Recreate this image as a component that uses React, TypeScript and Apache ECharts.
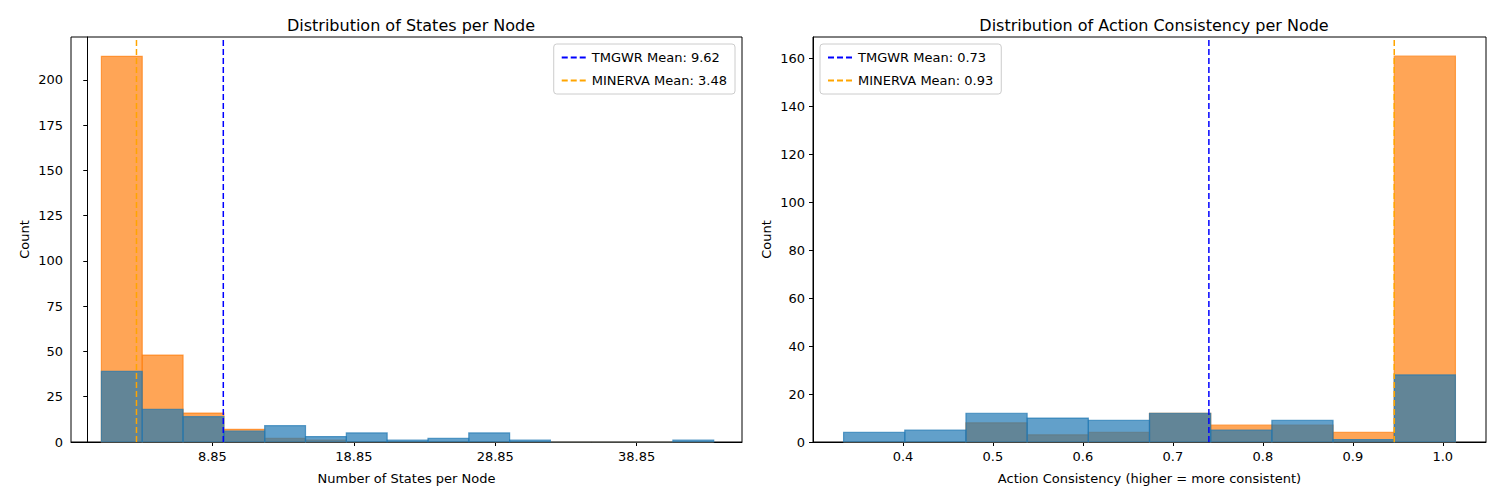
import { useRef, useEffect } from 'react'
import * as echarts from 'echarts'

const statesEdges = [1, 3.887, 6.773, 9.66, 12.547, 15.433, 18.32, 21.207, 24.093, 26.98, 29.867, 32.753, 35.64, 38.527, 41.413, 44.3]
const statesTmgwr = [39, 18, 14, 6, 9, 3, 5, 1, 2, 5, 1, 0, 0, 0, 1]
const statesMinerva = [213, 48, 16, 7, 2, 1, 0, 0, 0, 0, 0, 0, 0, 0, 0]

const actionEdges = [0.32, 0.388, 0.456, 0.524, 0.592, 0.66, 0.728, 0.796, 0.864, 0.932, 1.0]
const actionTmgwr = [4, 5, 12, 10, 9, 12, 5, 9, 1, 28]
const actionMinerva = [0, 0, 8, 3, 4, 12, 7, 7, 4, 161]

const means = { statesTmgwr: 9.62, statesMinerva: 3.48, actionTmgwr: 0.73, actionMinerva: 0.93 }
const meanPlot = { statesTmgwr: 9.62, statesMinerva: 3.48, actionTmgwr: 0.726, actionMinerva: 0.932 }

const FONT = 'DejaVu Sans'
const BLUE = '#1f77b4'
const ORANGE = '#ff7f0e'

function histSeries(edges: number[], counts: number[], color: string, idx: number) {
  return {
    type: 'custom',
    xAxisIndex: idx,
    yAxisIndex: idx,
    silent: true,
    data: counts.map((c, i) => [edges[i], edges[i + 1], c]),
    renderItem: (_p: any, api: any) => {
      const a = api.coord([api.value(0), api.value(2)])
      const b = api.coord([api.value(1), 0])
      return {
        type: 'rect',
        shape: { x: a[0], y: a[1], width: b[0] - a[0], height: b[1] - a[1] },
        style: { fill: color, opacity: 0.7, stroke: color, lineWidth: 1.2 },
      }
    },
  }
}

function meanLine(name: string, x: number, max: number, color: string, idx: number) {
  return {
    type: 'line',
    name,
    xAxisIndex: idx,
    yAxisIndex: idx,
    data: [[x, 0], [x, max]],
    symbol: 'none',
    color,
    lineStyle: { color, type: [6, 3], width: 1.5 },
  }
}

const dash = 'path://M0,0h6v2h-6zM9,0h6v2h-6zM18,0h6v2h-6z'

function xAxis(idx: number, min: number, max: number, interval: number, name: string) {
  return {
    type: 'value', gridIndex: idx, min, max, interval,
    name, nameLocation: 'middle', nameGap: 30,
    nameTextStyle: { color: '#000', fontSize: 13, fontFamily: FONT },
    axisLine: { onZero: false, lineStyle: { color: '#000' } },
    axisTick: { show: true, length: 4, lineStyle: { color: '#000' } },
    axisLabel: {
      color: '#000', fontSize: 13, fontFamily: FONT,
      showMinLabel: false, showMaxLabel: false,
      formatter: (v: number) => (interval < 1 ? v.toFixed(1) : String(v)),
    },
    splitLine: { show: false },
  }
}

function yAxis(idx: number, max: number, interval: number) {
  return {
    type: 'value', gridIndex: idx, min: 0, max, interval,
    name: 'Count', nameLocation: 'middle', nameGap: 40,
    nameTextStyle: { color: '#000', fontSize: 13, fontFamily: FONT },
    axisLine: { show: true, lineStyle: { color: '#000' } },
    axisTick: { show: true, length: 4, lineStyle: { color: '#000' } },
    axisLabel: { color: '#000', fontSize: 13, fontFamily: FONT, showMaxLabel: false },
    splitLine: { show: false },
  }
}

function legend(idx: number, names: string[], pos: any) {
  return {
    orient: 'vertical', ...pos, data: names,
    icon: dash, itemWidth: 26, itemHeight: 2, itemGap: 10,
    textStyle: { color: '#000', fontSize: 13, fontFamily: FONT },
    borderColor: '#ccc', borderWidth: 1, borderRadius: 3, padding: [7, 8, 7, 8],
    backgroundColor: 'rgba(255,255,255,0.8)', z: 10,
  }
}

export default function App() {
  const ref = useRef<HTMLDivElement>(null)

  useEffect(() => {
    const el = ref.current
    if (!el) return
    const chart = echarts.init(el, null, { renderer: 'svg' })
    const lYMax = 223.7
    const rYMax = 169
    const l1 = `TMGWR Mean: ${means.statesTmgwr.toFixed(2)}`
    const l2 = `MINERVA Mean: ${means.statesMinerva.toFixed(2)}`
    const r1 = `TMGWR Mean: ${means.actionTmgwr.toFixed(2)}`
    const r2 = `MINERVA Mean: ${means.actionMinerva.toFixed(2)}`
    chart.setOption({
      animation: false,
      backgroundColor: '#fff',
      title: [
        { text: 'Distribution of States per Node', left: 406, top: 12, textAlign: 'center',
          textStyle: { fontSize: 16, fontWeight: 'normal', color: '#000', fontFamily: FONT } },
        { text: 'Distribution of Action Consistency per Node', left: 1149, top: 12, textAlign: 'center',
          textStyle: { fontSize: 16, fontWeight: 'normal', color: '#000', fontFamily: FONT } },
      ],
      grid: [
        { left: 71, right: 758, top: 37, bottom: 58, show: true, borderColor: '#000', borderWidth: 1 },
        { left: 813, right: 14, top: 37, bottom: 58, show: true, borderColor: '#000', borderWidth: 1 },
      ],
      legend: [
        legend(0, [l1, l2], { right: 765, top: 44 }),
        legend(1, [r1, r2], { left: 820, top: 44 }),
      ],
      xAxis: [
        xAxis(0, -1.15, 46.3, 10, 'Number of States per Node'),
        xAxis(1, 0.286, 1.034, 0.1, 'Action Consistency (higher = more consistent)'),
      ],
      yAxis: [yAxis(0, lYMax, 25), yAxis(1, rYMax, 20)],
      series: [
        histSeries(statesEdges, statesMinerva, ORANGE, 0),
        histSeries(statesEdges, statesTmgwr, BLUE, 0),
        meanLine(l1, meanPlot.statesTmgwr, lYMax, '#0000ff', 0),
        meanLine(l2, meanPlot.statesMinerva, lYMax, '#ffa500', 0),
        histSeries(actionEdges, actionMinerva, ORANGE, 1),
        histSeries(actionEdges, actionTmgwr, BLUE, 1),
        meanLine(r1, meanPlot.actionTmgwr, rYMax, '#0000ff', 1),
        meanLine(r2, meanPlot.actionMinerva, rYMax, '#ffa500', 1),
      ],
    })
    return () => chart.dispose()
  }, [])

  return <div ref={ref} style={{ width: 1500, height: 500, margin: -8 }} />
}
